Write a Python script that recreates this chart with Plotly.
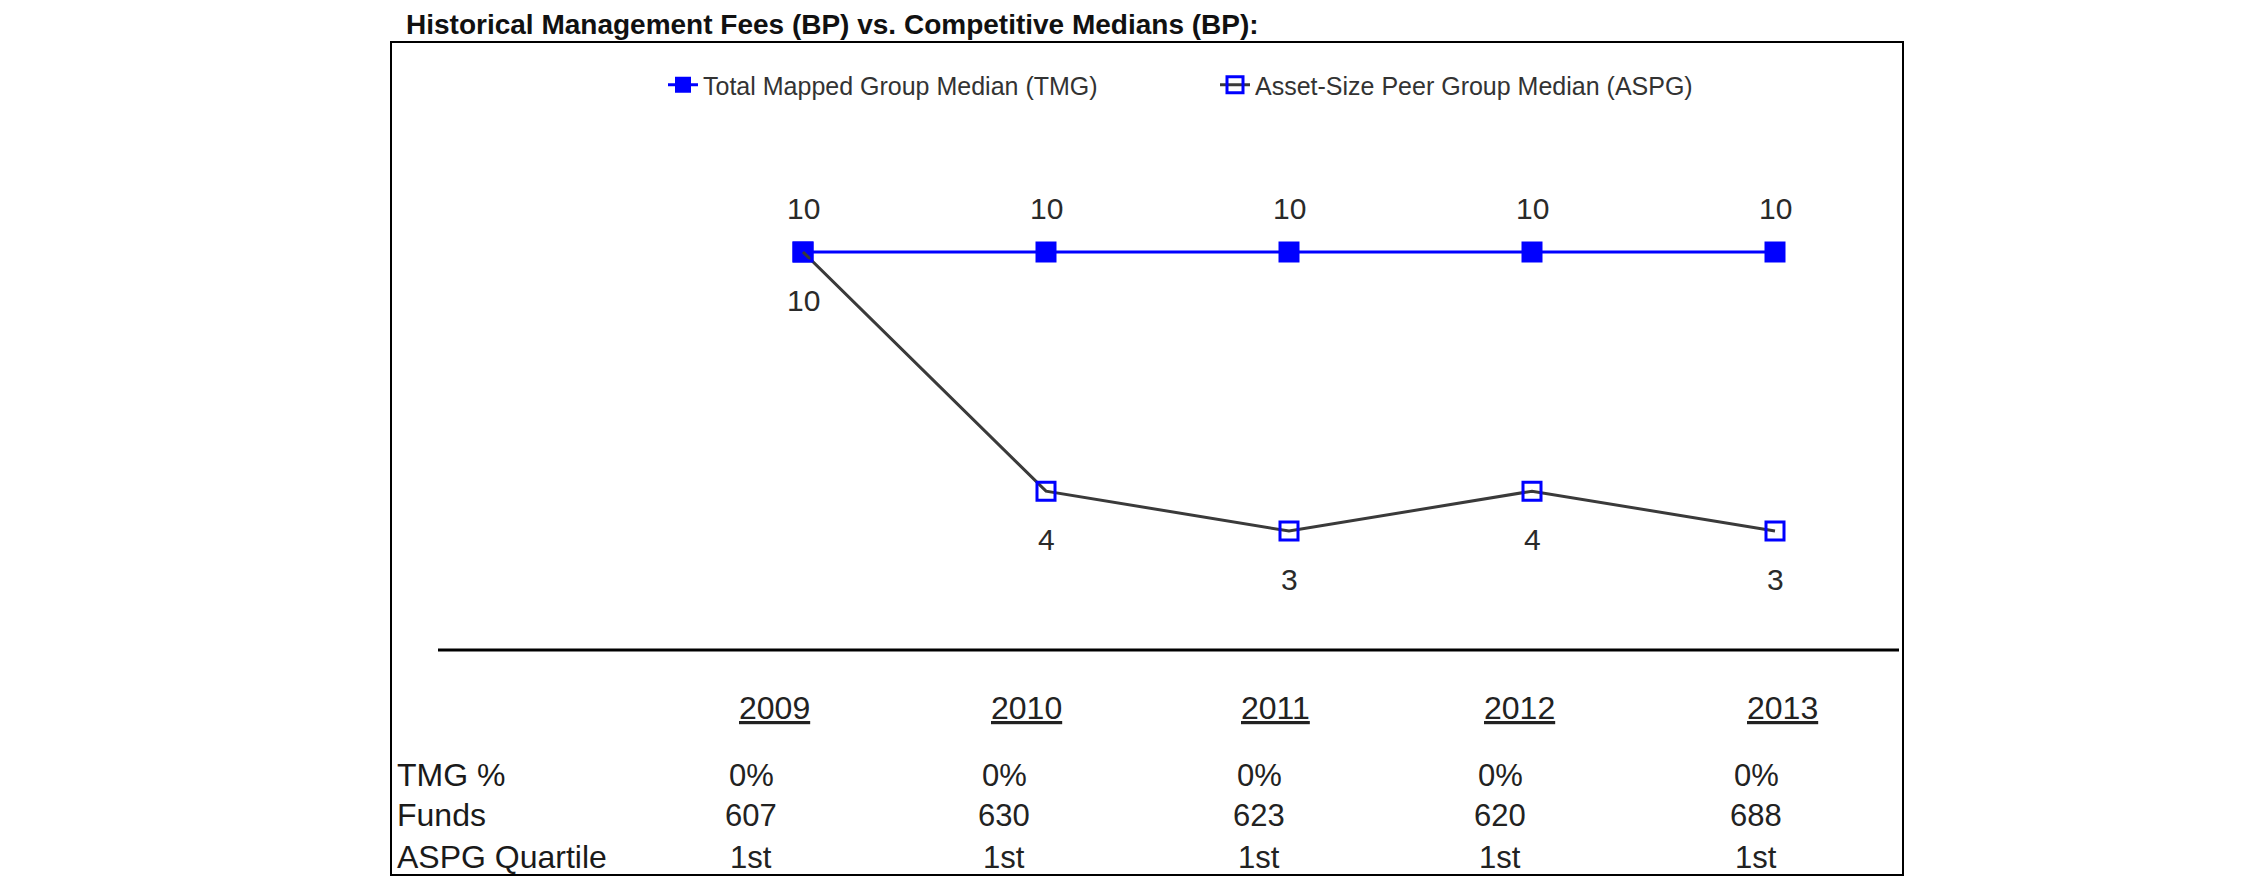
import plotly.graph_objects as go

# ---- data ----
years = [2009, 2010, 2011, 2012, 2013]
tmg_median = [10, 10, 10, 10, 10]
aspg_median = [10, 4, 3, 4, 3]
tmg_pct = ["0%", "0%", "0%", "0%", "0%"]
funds = [607, 630, 623, 620, 688]
aspg_quartile = ["1st", "1st", "1st", "1st", "1st"]
row_labels = ["TMG %", "Funds", "ASPG Quartile"]
series_names = ["Total Mapped Group Median (TMG)", "Asset-Size Peer Group Median (ASPG)"]
title_text = "Historical Management Fees (BP) vs. Competitive Medians (BP):"

# ---- layout constants (pixels) ----
W, H = 2250, 895
L, R, T, B = 384, 1894, 35, 866
FONT = "Arial, Liberation Sans, sans-serif"

def px_y(p):
    return (B - p) / (B - T)

def px_x(p):
    return (p - L) / (R - L)

header_xshift = [-29, -20, -14, -13, 7]
value_xshift = [-52, -42, -30, -32, -19]

fig = go.Figure()
fig.add_trace(go.Scatter(
    x=years, y=tmg_median, name=series_names[0], mode="lines+markers",
    line=dict(color="#0000FF", width=3),
    marker=dict(symbol="square", size=21, color="#0000FF"),
))
fig.add_trace(go.Scatter(
    x=years, y=aspg_median, name=series_names[1], mode="lines+markers",
    line=dict(color="#3a3a3a", width=3),
    marker=dict(symbol="square-open", size=18, color="#0000FF", line=dict(width=3, color="#0000FF")),
))

ann = []
# data labels
for x, v in zip(years, tmg_median):
    ann.append(dict(x=x, y=v, xref="x", yref="y", text=str(v), showarrow=False,
                    yshift=44, font=dict(family=FONT, size=30, color="#2a2a2a")))
for x, v in zip(years, aspg_median):
    ann.append(dict(x=x, y=v, xref="x", yref="y", text=str(v), showarrow=False,
                    yshift=-48, font=dict(family=FONT, size=30, color="#2a2a2a")))

# title
ann.append(dict(x=px_x(397), y=px_y(0), xref="paper", yref="paper", xanchor="left", yanchor="top",
                text="<b>" + title_text + "</b>", showarrow=False, borderpad=0,
                font=dict(family=FONT, size=28, color="#111111")))

# table headers
for i, yr in enumerate(years):
    ann.append(dict(x=yr, y=px_y(700), xref="x", yref="paper", xshift=header_xshift[i],
                    text="<u>" + str(yr) + "</u>", showarrow=False, yanchor="middle",
                    font=dict(family=FONT, size=32, color="#222222")))

rows = [tmg_pct, [str(f) for f in funds], aspg_quartile]
row_y = [767, 807, 849]
for r, (lab, vals) in enumerate(zip(row_labels, rows)):
    ann.append(dict(x=px_x(387), y=px_y(row_y[r]), xref="paper", yref="paper", xanchor="left",
                    yanchor="middle", text=lab, showarrow=False,
                    font=dict(family=FONT, size=32, color="#1a1a1a")))
    for i, yr in enumerate(years):
        ann.append(dict(x=yr, y=px_y(row_y[r]), xref="x", yref="paper", xshift=value_xshift[i],
                        text=vals[i], showarrow=False, yanchor="middle",
                        font=dict(family=FONT, size=31, color="#222222")))

shapes = [dict(type="line", xref="paper", yref="paper", x0=px_x(430), x1=px_x(1891),
               y0=px_y(642), y1=px_y(642), line=dict(color="black", width=3))]

x2009, x2013 = 795, 1767
step = (x2013 - x2009) / 4.0
y10, unit = 244, 39.86
x0 = 2009 - (x2009 - L) / step
x1 = 2013 + (R - x2013) / step
y_top = 10 + (y10 - T) / unit
y_bot = 10 - (B - y10) / unit

fig.update_layout(
    width=W, height=H,
    margin=dict(l=L, r=W - R, t=T, b=H - B, pad=0),
    paper_bgcolor="white", plot_bgcolor="white",
    showlegend=True,
    legend=dict(orientation="h", x=px_x(655), y=px_y(77), xanchor="left", yanchor="middle",
                entrywidth=507, entrywidthmode="pixels",
                font=dict(family=FONT, size=25, color="#333333"),
                bgcolor="rgba(0,0,0,0)"),
    annotations=ann, shapes=shapes,
    xaxis=dict(range=[x0, x1], showgrid=False, zeroline=False, showticklabels=False, ticks="",
               showline=True, mirror=True, linecolor="black", linewidth=2),
    yaxis=dict(range=[y_bot, y_top], showgrid=False, zeroline=False, showticklabels=False, ticks="",
               showline=True, mirror=True, linecolor="black", linewidth=2),
)

fig.write_html("out.html")
